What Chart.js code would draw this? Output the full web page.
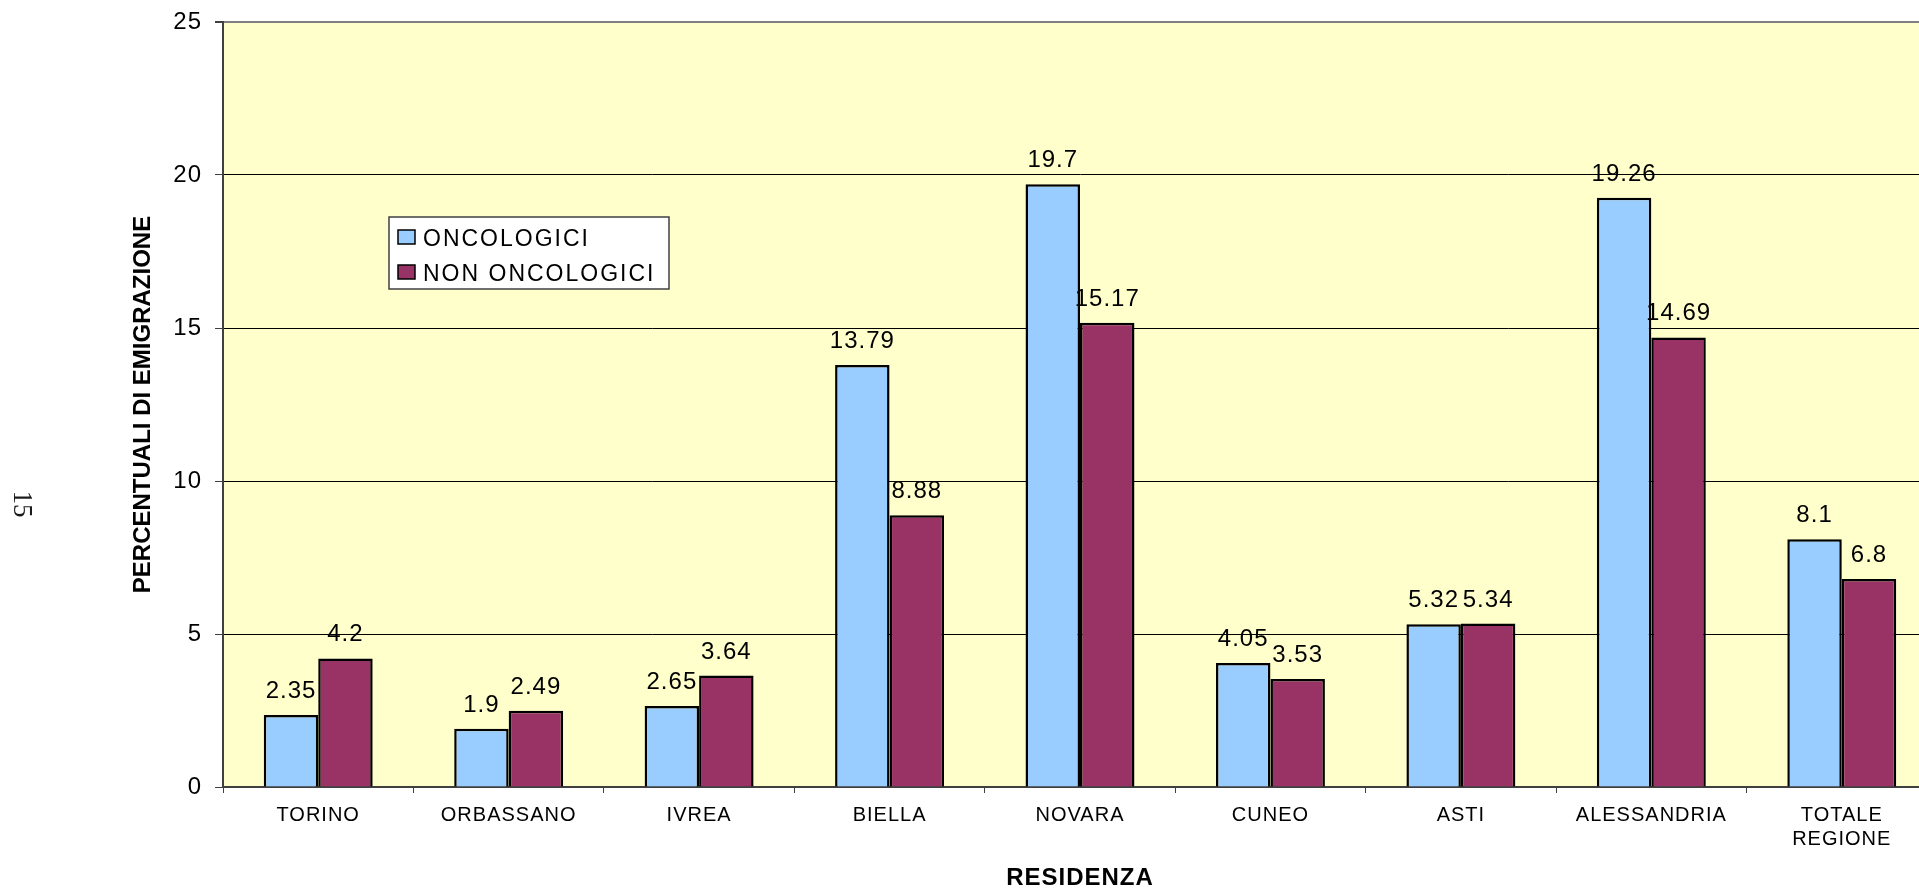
<!DOCTYPE html>
<html lang="it">
<head>
<meta charset="utf-8">
<title>Percentuali di emigrazione per residenza</title>
<script src="https://cdn.jsdelivr.net/npm/chart.js@4.4.1/dist/chart.umd.min.js"></script>
<style>
	html,
	body {
		margin: 0;
		padding: 0;
		background: #ffffff;
		overflow: hidden;
	}
	.chart-wrap {
		position: absolute;
		left: 0;
		top: 0;
		width: 1950px;
		height: 890px;
	}
</style>
</head>
<body>
<div class="chart-wrap">
	<canvas id="emigrazioneChart"></canvas>
</div>
<script>
const categories = [
	'TORINO',
	'ORBASSANO',
	'IVREA',
	'BIELLA',
	'NOVARA',
	'CUNEO',
	'ASTI',
	'ALESSANDRIA',
	['TOTALE', 'REGIONE'],
];
const seriesNames = ['ONCOLOGICI', 'NON ONCOLOGICI'];
const oncologici = [2.35, 1.9, 2.65, 13.79, 19.7, 4.05, 5.32, 19.26, 8.1];
const nonOncologici = [4.2, 2.49, 3.64, 8.88, 15.17, 3.53, 5.34, 14.69, 6.8];
const yMin = 0;
const yMax = 25;
const yStep = 5;

const xTitle = 'RESIDENZA';
const yTitle = 'PERCENTUALI DI EMIGRAZIONE';
const pageNumber = '15';

const fontFamily = "'Liberation Sans', Arial, sans-serif";
const colors = {
	plot: '#ffffcc',
	oncologici: '#99ccff',
	nonOncologici: '#993366',
	axis: '#404040',
	grid: '#000000',
	frame: '#808080',
};

const plotBackground = {
	id: 'plotBackground',
	beforeDraw: (chart) => {
		const { ctx, chartArea } = chart;
		ctx.save();
		ctx.fillStyle = colors.plot;
		ctx.fillRect(
			chartArea.left,
			chartArea.top,
			chartArea.right - chartArea.left,
			chartArea.bottom - chartArea.top,
		);
		ctx.restore();
		// tick labels in the original are slightly spaced out
		ctx.letterSpacing = '1px';
	},
};

const valueLabels = {
	id: 'valueLabels',
	afterDatasetsDraw: (chart) => {
		const { ctx } = chart;
		ctx.save();
		ctx.font = `24px ${fontFamily}`;
		ctx.letterSpacing = '1px';
		ctx.fillStyle = '#000000';
		ctx.textAlign = 'center';
		ctx.textBaseline = 'alphabetic';
		chart.data.datasets.forEach((dataset, i) => {
			const meta = chart.getDatasetMeta(i);
			meta.data.forEach((bar, j) => {
				ctx.fillText(String(dataset.data[j]), bar.x, bar.y - 17);
			});
		});
		ctx.restore();
	},
};

const extraText = {
	id: 'extraText',
	afterDraw: (chart) => {
		const { ctx, chartArea } = chart;
		const midY = (chartArea.top + chartArea.bottom) / 2;
		const midX = (chartArea.left + chartArea.right) / 2;

		ctx.save();
		ctx.fillStyle = '#000000';

		// axis titles
		ctx.font = `bold 24px ${fontFamily}`;
		ctx.letterSpacing = '1px';
		ctx.textAlign = 'center';
		ctx.textBaseline = 'alphabetic';
		ctx.fillText(xTitle, midX, 885);

		ctx.save();
		ctx.translate(143, midY);
		ctx.rotate(-Math.PI / 2);
		ctx.letterSpacing = '0px';
		ctx.textBaseline = 'middle';
		ctx.fillText(yTitle, 0, 0);
		ctx.restore();

		// page number of the scanned document
		ctx.save();
		ctx.translate(21, 504);
		ctx.rotate(Math.PI / 2);
		ctx.font = `27px 'Liberation Serif', 'Times New Roman', serif`;
		ctx.letterSpacing = '0px';
		ctx.fillStyle = '#1a1a1a';
		ctx.textBaseline = 'middle';
		ctx.fillText(pageNumber, 0, 0);
		ctx.restore();

		// legend box
		const box = { x: 389, y: 217, w: 280, h: 72 };
		ctx.fillStyle = '#ffffff';
		ctx.fillRect(box.x, box.y, box.w, box.h);
		ctx.strokeStyle = '#404040';
		ctx.lineWidth = 1.5;
		ctx.strokeRect(box.x, box.y, box.w, box.h);

		ctx.font = `23px ${fontFamily}`;
		ctx.letterSpacing = '2px';
		ctx.textAlign = 'left';
		chart.data.datasets.forEach((dataset, i) => {
			const rowY = box.y + 13 + i * 35;
			ctx.fillStyle = dataset.backgroundColor;
			ctx.fillRect(box.x + 9, rowY, 17, 14);
			ctx.strokeStyle = '#000000';
			ctx.lineWidth = 1.5;
			ctx.strokeRect(box.x + 9, rowY, 17, 14);
			ctx.fillStyle = '#000000';
			ctx.fillText(dataset.label, box.x + 34, rowY + 16);
		});
		ctx.restore();
	},
};

const buildDataset = (label, data, color) => ({
	label,
	data,
	backgroundColor: color,
	borderColor: '#000000',
	borderWidth: 2.5,
	borderSkipped: 'start',
	categoryPercentage: 0.572,
	barPercentage: 1,
});

const canvas = document.getElementById('emigrazioneChart');
new Chart(canvas, {
	type: 'bar',
	data: {
		labels: categories,
		datasets: [
			buildDataset(seriesNames[0], oncologici, colors.oncologici),
			buildDataset(seriesNames[1], nonOncologici, colors.nonOncologici),
		],
	},
	options: {
		responsive: true,
		maintainAspectRatio: false,
		animation: false,
		layout: {
			padding: {
				left: 0,
				right: 13,
				top: 22,
				bottom: 0,
			},
		},
		plugins: {
			legend: {
				display: false,
			},
			tooltip: {
				enabled: false,
			},
		},
		scales: {
			x: {
				afterFit: (scale) => {
					scale.height = 103;
					scale.paddingLeft = 0;
					scale.paddingRight = 0;
				},
				ticks: {
					color: '#000000',
					padding: 10,
					maxRotation: 0,
					autoSkip: false,
					font: {
						family: fontFamily,
						size: 20,
						lineHeight: 1.2,
					},
				},
				grid: {
					display: true,
					drawOnChartArea: false,
					drawTicks: true,
					tickLength: 6,
					color: colors.axis,
					lineWidth: 1,
				},
				border: {
					display: true,
					color: colors.axis,
					width: 2,
				},
			},
			y: {
				min: yMin,
				max: yMax,
				afterFit: (scale) => {
					scale.width = 223;
					scale.paddingTop = 0;
					scale.paddingBottom = 0;
				},
				ticks: {
					stepSize: yStep,
					color: '#000000',
					padding: 13,
					font: {
						family: fontFamily,
						size: 24,
					},
				},
				grid: {
					color: (ctx) => {
						if (ctx.tick && ctx.tick.value === yMax) return colors.frame;
						if (ctx.tick && ctx.tick.value === yMin) return colors.axis;
						return colors.grid;
					},
					lineWidth: (ctx) => (ctx.tick && ctx.tick.value === yMax ? 2 : 1),
					tickColor: colors.axis,
					tickLength: 8,
				},
				border: {
					display: true,
					color: colors.axis,
					width: 2,
				},
			},
		},
	},
	plugins: [plotBackground, valueLabels, extraText],
});
</script>
</body>
</html>
